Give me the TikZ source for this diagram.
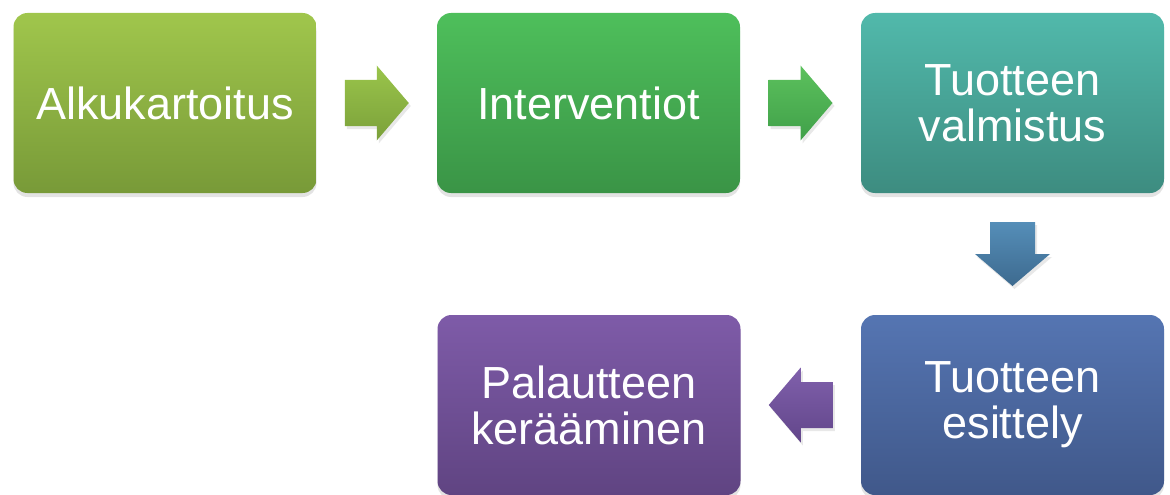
\documentclass[tikz,border=0pt]{standalone}
\usepackage{fontspec}
\setmainfont{Liberation Sans}
\usetikzlibrary{shadows,calc}
\definecolor{g1t}{HTML}{A0C64C}\definecolor{g1b}{HTML}{789A38}
\definecolor{g2t}{HTML}{4EBF5B}\definecolor{g2b}{HTML}{3A9446}
\definecolor{g3t}{HTML}{51B9AB}\definecolor{g3b}{HTML}{3D8C80}
\definecolor{g4t}{HTML}{5575B2}\definecolor{g4b}{HTML}{40588A}
\definecolor{g5t}{HTML}{7E5BA8}\definecolor{g5b}{HTML}{604482}
\definecolor{a1t}{HTML}{9AC54B}\definecolor{a1b}{HTML}{7BA03A}
\definecolor{a2t}{HTML}{5CC15D}\definecolor{a2b}{HTML}{40A049}
\definecolor{a3t}{HTML}{558EB8}\definecolor{a3b}{HTML}{3D6A8F}
\definecolor{a4t}{HTML}{8060AC}\definecolor{a4b}{HTML}{62468A}
\begin{document}
\begin{tikzpicture}[x=1pt,y=-1pt,
  box/.style={rounded corners=14pt, minimum width=303pt, minimum height=180pt,
    inner sep=0pt, align=center, text=white,
    font=\fontsize{45}{46}\selectfont,
    drop shadow={opacity=0.22, shadow xshift=0pt, shadow yshift=-4pt}},
  blockarrow/.style={draw=none,
    drop shadow={opacity=0.18, shadow xshift=2pt, shadow yshift=-3pt}}]
\useasboundingbox (0,0) rectangle (1170,495);
\node[box, top color=g1t, bottom color=g1b] (a) at (165,103) {Alkukartoitus};
\node[box, top color=g2t, bottom color=g2b] (b) at (588.5,103) {Interventiot};
\node[box, top color=g3t, bottom color=g3b] (c) at (1012.5,103) {Tuotteen\\valmistus};
\node[box, top color=g4t, bottom color=g4b] (d) at (1012.5,405) {Tuotteen\\esittely};
\node[box, top color=g5t, bottom color=g5b] (e) at (589,405) {Palautteen\\kerääminen};
% arrows
\coordinate (m1) at ($(a.east)!0.5!(b.west)$);
\coordinate (m2) at ($(b.east)!0.5!(c.west)$);
\coordinate (m3) at ($(c.south)!0.5!(d.north)$);
\coordinate (m4) at ($(e.east)!0.5!(d.west)$);
\begin{scope}[shift={(m1)}]
\path[blockarrow, top color=a1t, bottom color=a1b]
 (-32,-23) -- (0,-23) -- (0,-37.5) -- (32,0) -- (0,37.5) -- (0,23) -- (-32,23) -- cycle;
\end{scope}
\begin{scope}[shift={(m2)}]
\path[blockarrow, top color=a2t, bottom color=a2b]
 (-32,-23) -- (0,-23) -- (0,-37.5) -- (32,0) -- (0,37.5) -- (0,23) -- (-32,23) -- cycle;
\end{scope}
\begin{scope}[shift={(m3)}]
\path[blockarrow, top color=a3t, bottom color=a3b]
 (-22.5,-32) -- (22.5,-32) -- (22.5,0) -- (37.5,0) -- (0,32) -- (-37.5,0) -- (-22.5,0) -- cycle;
\end{scope}
\begin{scope}[shift={(m4)}]
\path[blockarrow, top color=a4t, bottom color=a4b]
 (32,-23) -- (0,-23) -- (0,-37.5) -- (-32,0) -- (0,37.5) -- (0,23) -- (32,23) -- cycle;
\end{scope}
\end{tikzpicture}
\end{document}
